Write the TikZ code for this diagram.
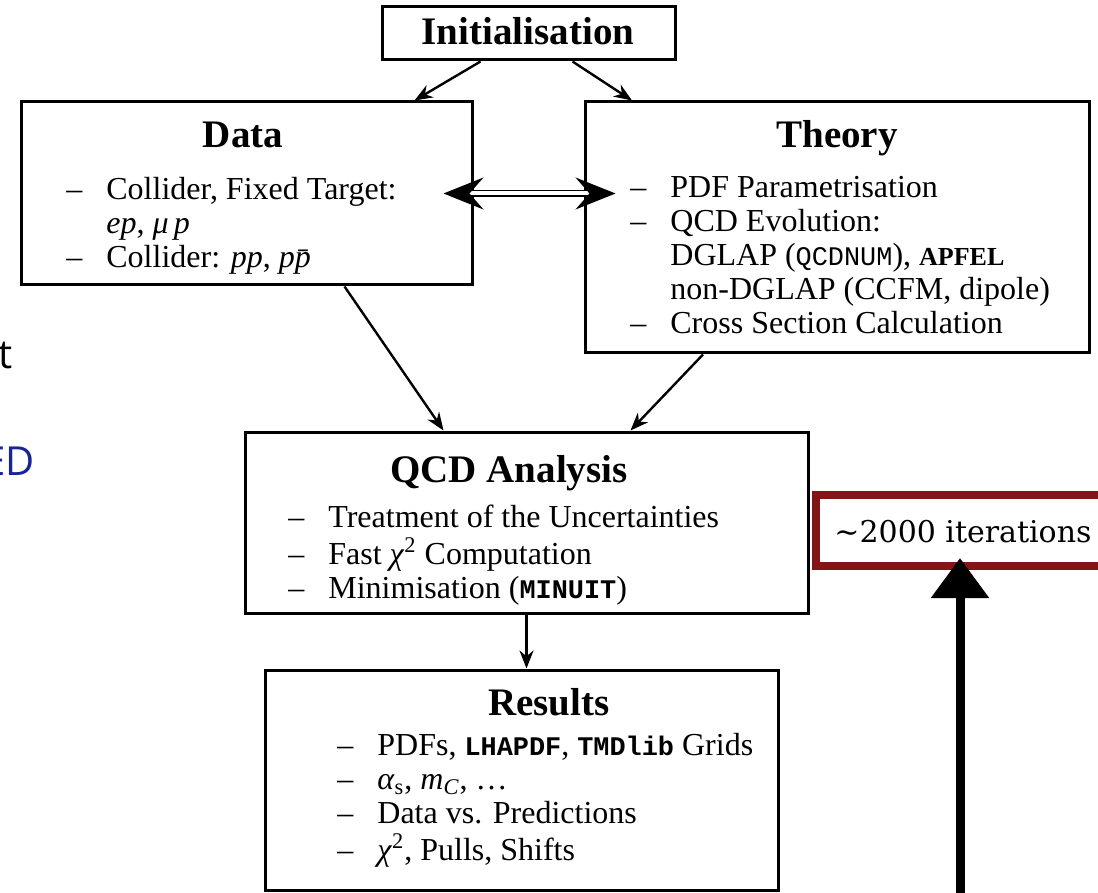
\documentclass[tikz,border=0pt]{standalone}
\usepackage{fontspec}
\setmainfont{Liberation Serif}
\setmonofont{Liberation Mono}[Scale=0.84]
\newfontfamily\slidefont{Open Sans}
\newfontfamily\iterfont{DejaVu Serif}
\usepackage{tikz}
\usetikzlibrary{calc,arrows.meta}

\definecolor{iterred}{RGB}{130,22,22}
\definecolor{slideblue}{RGB}{22,36,150}

\newcommand{\bodyfont}{\fontsize{16}{17}\selectfont}
\newcommand{\headfont}{\fontsize{19.5}{22}\selectfont\bfseries}
\newcommand{\dashlist}[1]{\begin{tabular}[t]{@{}l@{\hspace{12pt}}l@{}}#1\end{tabular}}

\tikzset{
  box/.style={draw, line width=1.5pt, inner sep=0pt},
  head/.style={font=\headfont, anchor=base, inner sep=0pt},
  items/.style={font=\bodyfont, anchor=base west, inner sep=0pt},
  flow/.style={-{Stealth[length=9pt,width=7pt]}, line width=1.2pt},
  dbl/.style={{Stealth[length=20pt,width=16pt,inset=7pt]}-{Stealth[length=20pt,width=16pt,inset=7pt]},
    double, double distance=2pt, line width=0.9pt},
  loop/.style={-{Triangle[length=20pt,width=28pt]}, line width=4.5pt},
}

\begin{document}
\begin{tikzpicture}[x=0.5pt, y=-0.5pt]
    \useasboundingbox (0,0) rectangle (1098,893);
    % boxes
    \node[box, minimum width=146.5pt, minimum height=26.5pt] (init) at (528.5,33.5) {};
    \node[box, minimum width=225.5pt, minimum height=91.5pt] (data) at (246.5,193.5) {};
    \node[box, minimum width=252pt, minimum height=125.5pt] (theory) at (837,227.5) {};
    \node[box, minimum width=281.5pt, minimum height=90.5pt] (qcd) at (526.5,522.5) {};
    \node[box, minimum width=256.5pt, minimum height=110pt] (results) at (521.5,780) {};
    \node[draw=iterred, line width=4pt, minimum width=147pt, minimum height=35.5pt] (iter) at (963,530.5) {};

    % headings
    \node[head] (inithead) at (528,45) {Initialisation};
    \node[head] (datahead) at (243,148) {Data};
    \node[head] (theoryhead) at (837,148) {Theory};
    \node[head] (qcdhead) at (509,482) {QCD Analysis};
    \node[head] (resultshead) at (549,715) {Results};

    % contents
    \node[items] (datalist) at (66,200) {\dashlist{
        -- & Collider, Fixed Target:\\
           & \textit{ep}, \textit{μ\,p}\\
        -- & Collider: \textit{pp}, \textit{p\=p}}};
    \node[items] (theorylist) at (630,198) {\dashlist{
        -- & PDF Parametrisation\\
        -- & QCD Evolution:\\
           & DGLAP (\texttt{QCDNUM}), {\fontsize{13}{15}\selectfont\bfseries APFEL}\\
           & non-DGLAP (CCFM, dipole)\\
        -- & Cross Section Calculation}};
    \node[items] (qcdlist) at (288,527) {\dashlist{
        -- & Treatment of the Uncertainties\\
        -- & Fast \textit{χ}\textsuperscript{2} Computation\\
        -- & Minimisation (\texttt{\bfseries MINUIT})}};
    \node[items] (resultslist) at (337,755) {\dashlist{
        -- & PDFs, \texttt{\bfseries LHAPDF}, \texttt{\bfseries TMDlib} Grids\\
        -- & \textit{α}\textsubscript{s}, \textit{m}\textsubscript{\textit{C}}, \ldots\\
        -- & Data vs. Predictions\\
        -- & \textit{χ}\textsuperscript{2}, Pulls, Shifts}};

    \node[anchor=base, inner sep=0pt, font=\iterfont\fontsize{15}{18}\selectfont] (itertext) at (963,542) {\textasciitilde2000 iterations};

    % slide leftovers
    \node[anchor=base east, inner sep=0pt, font=\slidefont\fontsize{20}{24}\selectfont] (slidet) at (13,368) {t};
    \node[anchor=base east, inner sep=0pt, text=slideblue, font=\slidefont\fontsize{20}{24}\selectfont] (slideed) at (35,475) {ED};

    % connectors
    \draw[flow] ($(init.south)+(-48,0)$) -- ($(data.north)+(168,0)$);
    \draw[flow] ($(init.south)+(44,0)$) -- ($(theory.north)+(-205,0)$);
    \draw[dbl, shorten <=-15pt, shorten >=-16pt] (data.east) -- (data.east -| theory.west);
    \draw[flow] ($(data.south)+(98,0)$) -- ($(qcd.north)+(-83,0)$);
    \draw[flow] ($(theory.south)+(-134,0)$) -- ($(qcd.north)+(104,0)$);
    \draw[flow] (qcd.south) -- (qcd.south |- results.north);
    \coordinate (loopfoot) at (960,900);
    \draw[loop, shorten >=-6pt] (loopfoot) -- (iter.south -| loopfoot); % back to the start
\end{tikzpicture}
\end{document}
